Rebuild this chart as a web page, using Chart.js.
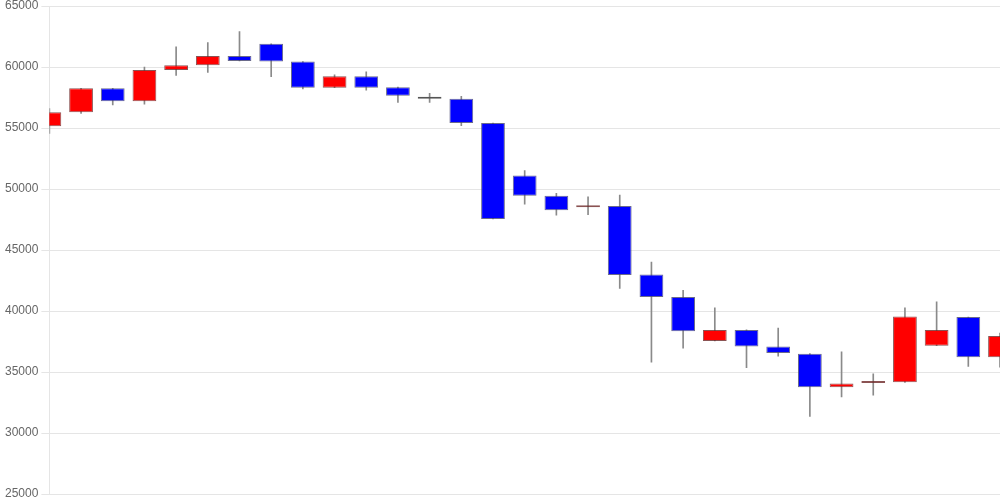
<!DOCTYPE html>
<html>
<head>
<meta charset="utf-8">
<script src="https://cdn.jsdelivr.net/npm/chart.js@4/dist/chart.umd.min.js"></script>
<style>
  html, body { margin: 0; padding: 0; background: #fff; }
  #wrap { width: 1000px; height: 500px; }
</style>
</head>
<body>
<div id="wrap"><canvas id="chart"></canvas></div>
<script>
// candle data (oldest first)
const labels = Array.from({ length: 31 }, (_, i) => String(i + 1))
const opens  = [55150, 56300, 58250, 57200, 59750, 60150, 60900, 61900, 60450, 58300, 59250, 58350, 57400, 57400, 55400, 51100, 49450, 48500, 48600, 43000, 41150, 37550, 38450, 37100, 36500, 33750, 34100, 34150, 37150, 39500, 36200]
const closes = [56300, 58250, 57200, 59750, 60150, 60900, 60500, 60450, 58300, 59250, 58300, 57650, 57400, 55400, 47550, 49450, 48250, 48550, 42950, 41150, 38350, 38450, 37100, 36550, 33750, 34050, 34150, 39550, 38450, 36200, 37950]
const highs  = [56600, 58250, 58250, 60000, 61650, 62000, 62900, 61900, 60450, 59350, 59600, 58350, 57850, 57600, 55400, 51500, 49650, 49350, 49500, 44000, 41700, 40250, 38450, 38600, 36500, 36650, 34850, 40250, 40750, 39500, 38200]
const lows   = [54550, 56200, 56900, 56950, 59300, 59550, 60500, 59200, 58200, 58300, 58100, 57100, 57100, 55200, 47550, 48750, 47850, 47900, 41850, 35800, 36950, 37550, 35350, 36300, 31350, 32950, 33100, 34150, 37150, 35450, 35400]

const UP = "#ff0000"
const DOWN = "#0000ff"
const FLAT = "#555555"

const bodyColors = opens.map((o, i) => (closes[i] > o ? UP : closes[i] < o ? DOWN : FLAT))
const bodyBorders = opens.map((o, i) => (closes[i] > o ? "rgba(110, 40, 40, 0.8)" : closes[i] < o ? "rgba(70, 70, 110, 0.8)" : FLAT))

new Chart(document.getElementById("chart"), {
  type: "bar",
  data: {
    labels,
    datasets: [
      {
        label: "wick",
        data: lows.map((l, i) => [l, highs[i]]),
        backgroundColor: "#8a8a8a",
        barThickness: 1,
        grouped: false,
        order: 2,
      },
      {
        label: "body",
        data: opens.map((o, i) => [o, closes[i]]),
        backgroundColor: bodyColors,
        borderColor: bodyBorders,
        borderWidth: 1,
        borderSkipped: false,
        minBarLength: 2,
        categoryPercentage: 1,
        barPercentage: 0.75,
        grouped: false,
        order: 1,
      },
    ],
  },
  options: {
    responsive: true,
    maintainAspectRatio: false,
    animation: false,
    layout: { padding: { left: 2, top: 1 } },
    plugins: {
      legend: { display: false },
      tooltip: { enabled: false },
    },
    scales: {
      x: {
        display: false,
        offset: false,
        grid: { display: false },
      },
      y: {
        min: 25000,
        max: 65000,
        ticks: {
          stepSize: 5000,
          color: "#666",
          font: { family: "Arial, 'Liberation Sans', sans-serif", size: 12, lineHeight: 0.5 },
          callback: (v) => String(v),
        },
        grid: { color: "rgba(0, 0, 0, 0.1)" },
      },
    },
  },
})
</script>
</body>
</html>
